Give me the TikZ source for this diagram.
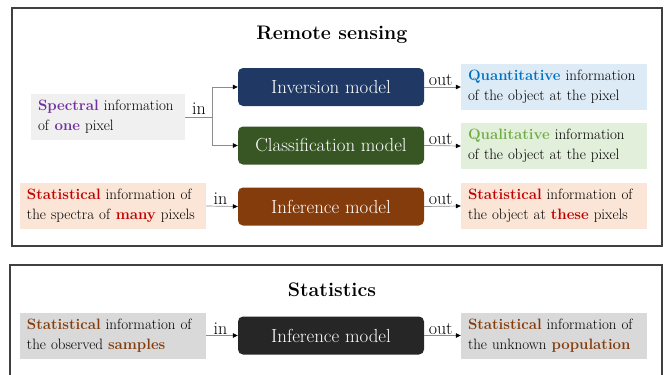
\documentclass[tikz,border=0pt]{standalone}
\usepackage{fontspec}
\usetikzlibrary{arrows.meta}
\definecolor{frame}{HTML}{404040}
\definecolor{invblue}{HTML}{1F3864}
\definecolor{clsgreen}{HTML}{375623}
\definecolor{infbrown}{HTML}{843C0C}
\definecolor{infblack}{HTML}{262626}
\definecolor{purp}{HTML}{7030A0}
\definecolor{qblue}{HTML}{0070C0}
\definecolor{qgreen}{HTML}{70AD47}
\definecolor{sred}{HTML}{C00000}
\definecolor{sbrown}{HTML}{843C0C}
\definecolor{fgray}{HTML}{F0F0F0}
\definecolor{fblue}{HTML}{DDEBF7}
\definecolor{fgreen}{HTML}{E2EFDA}
\definecolor{forange}{HTML}{FBE5D6}
\definecolor{fdgray}{HTML}{D9D9D9}
\definecolor{link}{HTML}{8C8C8C}
\newcommand{\hl}[2]{\textbf{\color{#1}#2}}
\newcommand{\twolines}[2]{\mbox{#1}\\\mbox{#2}}
\tikzset{
  panel/.style={draw=frame, line width=1.4pt},
  heading/.style={font=\fontsize{19.6}{22}\selectfont\bfseries},
  model/.style={rounded corners=5pt, minimum width=186pt, minimum height=38pt,
    inner sep=0pt, text=white, font=\fontsize{18.9}{22}\selectfont},
  info/.style={minimum height=46pt, inner xsep=7pt, inner ysep=0pt,
    align=left, font=\fontsize{15}{20}\selectfont},
  wide/.style={info, minimum width=186pt, text width=172pt},
  link/.style={draw=link, line width=0.7pt,
    -{Triangle[length=5pt,width=4.5pt,fill=black,color=black]}},
  tag/.style={font=\fontsize{18}{20}\selectfont, inner sep=1pt}
}
\begin{document}
\begin{tikzpicture}[x=1pt, y=-1pt]
\useasboundingbox (0,0) rectangle (665,375);
\clip (0,0) rectangle (665,375);

% Remote sensing panel
\draw[panel] (12,8) rectangle (662,246);
\node[heading] (rs) at (332,35) {Remote sensing};

\node[model, fill=invblue] (inv) at (331,87) {Inversion model};
\node[model, fill=clsgreen] (cls) at (331,145.5) {Classification model};
\node[model, fill=infbrown] (inf) at (331,206.5) {Inference model};

\node[info, fill=fgray, minimum width=154pt, text width=140pt] (spec) at (108,117)
  {\twolines{\hl{purp}{Spectral} information}{of \hl{purp}{one} pixel}};
\node[wide, fill=forange] (many) at (113,206)
  {\twolines{\hl{sred}{Statistical} information of}{the spectra of \hl{sred}{many} pixels}};

\node[wide, fill=fblue] (quan) at (554,87)
  {\twolines{\hl{qblue}{Quantitative} information}{of the object at the pixel}};
\node[wide, fill=fgreen] (qual) at (554,146)
  {\twolines{\hl{qgreen}{Qualitative} information}{of the object at the pixel}};
\node[wide, fill=forange] (these) at (554,206)
  {\twolines{\hl{sred}{Statistical} information of}{the object at \hl{sred}{these} pixels}};

% input fork to the two pixel models
\coordinate (fork) at (212,117);
\draw[draw=link, line width=0.7pt] (spec.east) -- (fork);
\draw[link] (fork) |- (inv.west);
\draw[link] (fork) |- (cls.west);
\node[tag, anchor=south] (in1) at (199,116) {in};

\draw[link] (many.east) -- (inf.west) node[tag, pos=0.45, anchor=south] (in2) {in};
\draw[link] (inv.east) -- (quan.west) node[tag, pos=0.45, anchor=south] (o1) {out};
\draw[link] (cls.east) -- (qual.west) node[tag, pos=0.45, anchor=south] (o2) {out};
\draw[link] (inf.east) -- (these.west) node[tag, pos=0.45, anchor=south] (o3) {out};

% Statistics panel
\draw[panel] (10,265) rectangle (662,400);
\node[heading] (st) at (332,290) {Statistics};

\node[model, fill=infblack] (sinf) at (331,335.5) {Inference model};
\node[wide, fill=fdgray] (samp) at (113,335.5)
  {\twolines{\hl{sbrown}{Statistical} information of}{the observed \hl{sbrown}{samples}}};
\node[wide, fill=fdgray] (pop) at (554,335.5)
  {\twolines{\hl{sbrown}{Statistical} information of}{the unknown \hl{sbrown}{population}}};

\draw[link] (samp.east) -- (sinf.west) node[tag, pos=0.45, anchor=south] (in3) {in};
\draw[link] (sinf.east) -- (pop.west) node[tag, pos=0.45, anchor=south] (o4) {out};
\end{tikzpicture}
\end{document}
